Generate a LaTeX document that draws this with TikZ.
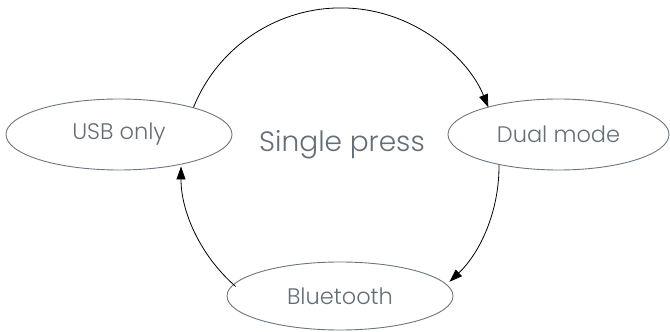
\documentclass[tikz,border=0pt]{standalone}
\usepackage{fontspec}
\setmainfont{Poppins Light}
\usetikzlibrary{shapes.geometric,arrows.meta}
\definecolor{stategray}{RGB}{108,118,126}
\definecolor{textgray}{RGB}{100,110,118}
\begin{document}
\begin{tikzpicture}[x=1pt,y=1pt,
  state/.style={ellipse,draw=stategray,line width=0.9pt,inner sep=0pt,
    text=textgray,font=\fontsize{22.5}{26}\selectfont},
  link/.style={draw=black,line width=0.8pt,-{Triangle[length=13pt,width=9pt]}}]
\useasboundingbox (0,0) rectangle (670,332);
\node[state,minimum width=226pt,minimum height=71pt] (usb) at (119,197.5) {USB only};
\node[state,minimum width=221pt,minimum height=71pt] (dual) at (558.5,197.5) {Dual mode};
\node[state,minimum width=226pt,minimum height=68pt] (bt) at (340,36) {Bluetooth};
\node[text=textgray,font=\fontsize{28}{33}\selectfont,anchor=base] (lbl) at (342,180) {Single press};
\coordinate (c) at (340,165.5);
\draw[link] (usb.20.6) arc[start angle=158,end angle=22,radius=159];
\draw[link] ([shift={(0.5:159)}]c) arc[start angle=0.5,end angle=-46.5,radius=159];
\draw[link] ([shift={(-131:159)}]c) arc[start angle=-131,end angle=-180,radius=159];
\end{tikzpicture}
\end{document}
